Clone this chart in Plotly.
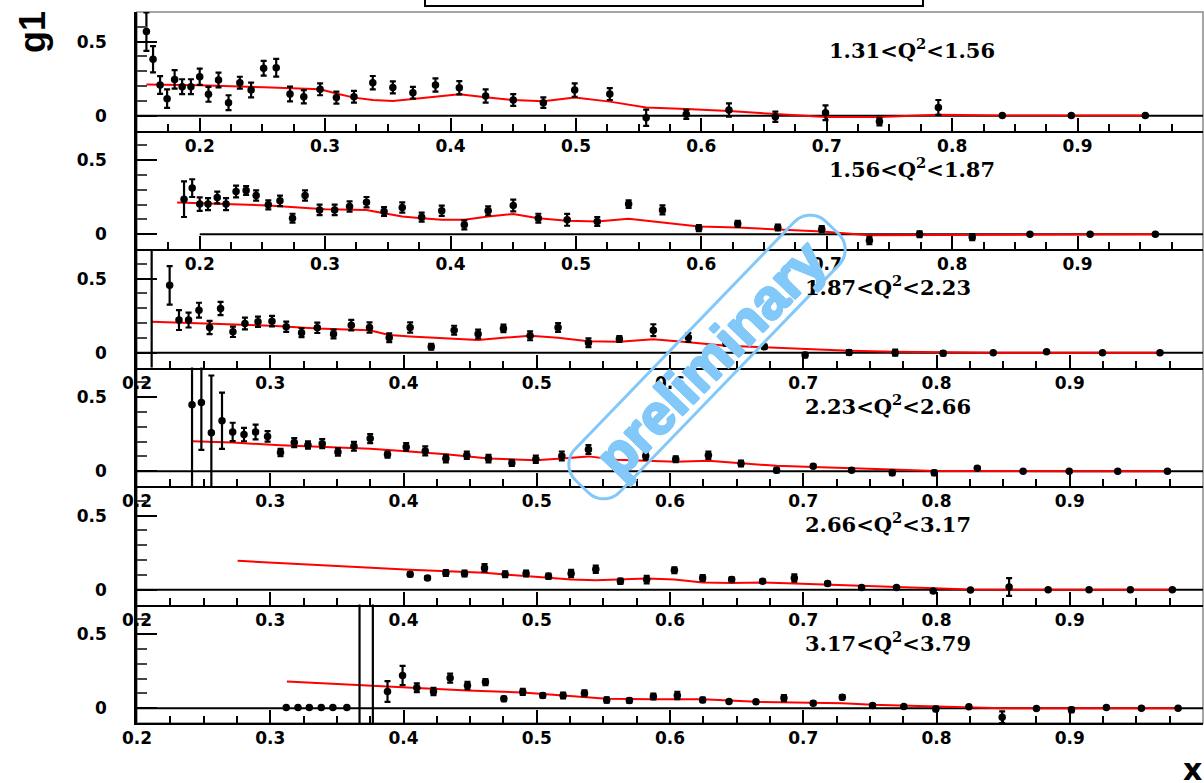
import math
import plotly.graph_objects as go

# ---------------- data: g1 vs x in six Q^2 bins ----------------
q2_labels = ["1.31&lt;Q<sup>2</sup>&lt;1.56", "1.56&lt;Q<sup>2</sup>&lt;1.87",
             "1.87&lt;Q<sup>2</sup>&lt;2.23", "2.23&lt;Q<sup>2</sup>&lt;2.66",
             "2.66&lt;Q<sup>2</sup>&lt;3.17", "3.17&lt;Q<sup>2</sup>&lt;3.79"]

x1 = [0.1575, 0.1628, 0.1684, 0.174, 0.180, 0.186, 0.193, 0.200, 0.207, 0.215,
      0.223, 0.232, 0.241, 0.251, 0.261, 0.272, 0.283, 0.296, 0.309, 0.323,
      0.338, 0.354, 0.370, 0.388, 0.407, 0.428, 0.450, 0.474, 0.499, 0.527,
      0.556, 0.588, 0.622, 0.659, 0.699, 0.742, 0.789, 0.840, 0.895, 0.954]
g1_1 = [0.568, 0.381, 0.207, 0.115, 0.245, 0.196, 0.196, 0.263, 0.144, 0.241,
        0.088, 0.223, 0.173, 0.320, 0.324, 0.146, 0.128, 0.178, 0.122, 0.128,
        0.223, 0.191, 0.155, 0.207, 0.189, 0.133, 0.106, 0.088, 0.173, 0.146,
        -0.014, 0.009, 0.038, -0.007, 0.020, -0.040, 0.056, 0.002, 0.002, 0.002]
err1 = [0.13, 0.088, 0.06, 0.062, 0.062, 0.05, 0.05, 0.055, 0.05, 0.05,
        0.05, 0.04, 0.05, 0.05, 0.06, 0.05, 0.045, 0.04, 0.04, 0.04,
        0.045, 0.04, 0.04, 0.045, 0.045, 0.045, 0.04, 0.035, 0.045, 0.04,
        0.055, 0.03, 0.045, 0.035, 0.05, 0.025, 0.05, 0.0, 0.0, 0.0]
fit_x1 = [0.1575, 0.200, 0.251, 0.296, 0.309, 0.323, 0.338, 0.354, 0.370, 0.388,
          0.407, 0.428, 0.450, 0.474, 0.499, 0.527, 0.556, 0.588, 0.622, 0.659,
          0.699, 0.742, 0.789, 0.840, 0.895, 0.954]
fit_1 = [0.210, 0.205, 0.192, 0.178, 0.150, 0.122, 0.106, 0.099, 0.113, 0.128,
         0.144, 0.124, 0.106, 0.097, 0.122, 0.095, 0.056, 0.045, 0.032, 0.011,
         -0.009, -0.009, 0.006, 0.002, 0.001, 0.001]

x2 = [0.1875, 0.194, 0.200, 0.2066, 0.214, 0.221, 0.229, 0.237, 0.245, 0.2547,
      0.264, 0.274, 0.284, 0.2956, 0.3076, 0.3195, 0.333, 0.347, 0.3615, 0.377,
      0.393, 0.411, 0.430, 0.450, 0.470, 0.493, 0.517, 0.542, 0.569, 0.598,
      0.629, 0.661, 0.696, 0.734, 0.774, 0.816, 0.862, 0.910, 0.962]
g1_2 = [0.236, 0.311, 0.203, 0.203, 0.248, 0.203, 0.288, 0.295, 0.261, 0.198,
        0.225, 0.108, 0.261, 0.164, 0.164, 0.187, 0.216, 0.153, 0.180, 0.115,
        0.158, 0.063, 0.158, 0.194, 0.108, 0.097, 0.086, 0.203, 0.164, 0.041,
        0.070, 0.045, 0.034, -0.043, 0.0, -0.020, 0.0, 0.0, 0.0]
err2 = [0.12, 0.06, 0.045, 0.04, 0.04, 0.04, 0.04, 0.03, 0.035, 0.03,
        0.035, 0.03, 0.035, 0.035, 0.035, 0.035, 0.035, 0.03, 0.035, 0.03,
        0.035, 0.03, 0.03, 0.04, 0.03, 0.04, 0.03, 0.025, 0.03, 0.02,
        0.02, 0.02, 0.02, 0.025, 0.02, 0.02, 0.0, 0.0, 0.0]
fit_x2 = [0.182, 0.200, 0.2547, 0.300, 0.333, 0.347, 0.3615, 0.377, 0.393, 0.411,
          0.430, 0.450, 0.470, 0.493, 0.517, 0.542, 0.569, 0.598, 0.629, 0.661,
          0.696, 0.734, 0.774, 0.816, 0.862, 0.910, 0.962]
fit_2 = [0.214, 0.209, 0.194, 0.169, 0.164, 0.142, 0.119, 0.108, 0.097, 0.097,
         0.119, 0.137, 0.108, 0.090, 0.086, 0.104, 0.081, 0.052, 0.045, 0.034,
         0.018, -0.007, -0.005, -0.003, 0.0, 0.0, 0.0]

x3 = [0.211, 0.2245, 0.2315, 0.2387, 0.2465, 0.2545, 0.2627, 0.272, 0.281, 0.2908,
      0.3013, 0.312, 0.3235, 0.3353, 0.3475, 0.3608, 0.3745, 0.3893, 0.405, 0.4208,
      0.438, 0.456, 0.475, 0.495, 0.516, 0.5388, 0.562, 0.5875, 0.6138, 0.6419,
      0.6708, 0.7014, 0.7344, 0.769, 0.805, 0.8426, 0.8826, 0.9246, 0.9677]
g1_3 = [1.5, 0.455, 0.220, 0.220, 0.287, 0.170, 0.298, 0.141, 0.197, 0.209,
        0.213, 0.175, 0.135, 0.168, 0.126, 0.186, 0.170, 0.101, 0.170, 0.040,
        0.152, 0.126, 0.164, 0.114, 0.170, 0.067, 0.092, 0.152, 0.103, 0.067,
        0.040, -0.016, 0.002, 0.0, -0.004, 0.0, 0.007, 0.0, 0.0]
err3 = [2.0, 0.13, 0.067, 0.05, 0.05, 0.045, 0.045, 0.035, 0.04, 0.035,
        0.035, 0.035, 0.03, 0.035, 0.03, 0.035, 0.035, 0.03, 0.035, 0.02,
        0.03, 0.03, 0.025, 0.03, 0.03, 0.03, 0.02, 0.04, 0.03, 0.02,
        0.015, 0.015, 0.015, 0.02, 0.015, 0.0, 0.0, 0.0, 0.0]
fit_x3 = [0.211, 0.2245, 0.2627, 0.3013, 0.3353, 0.3745, 0.3893, 0.405, 0.4208, 0.438,
          0.456, 0.475, 0.495, 0.516, 0.5388, 0.562, 0.5875, 0.6138, 0.6419, 0.6708,
          0.7014, 0.7344, 0.769, 0.805, 0.8426, 0.8826, 0.9246, 0.9677]
fit_3 = [0.209, 0.204, 0.193, 0.182, 0.164, 0.152, 0.119, 0.110, 0.101, 0.092,
         0.085, 0.101, 0.114, 0.101, 0.078, 0.074, 0.090, 0.070, 0.047, 0.036,
         0.025, 0.013, 0.007, 0.002, 0.0, 0.0, 0.0, 0.0]

x4 = [0.2413, 0.2483, 0.2558, 0.2638, 0.2718, 0.2803, 0.289, 0.298, 0.3077, 0.318,
      0.3283, 0.339, 0.3508, 0.3628, 0.375, 0.388, 0.402, 0.4163, 0.4318, 0.4475,
      0.4638, 0.4813, 0.4993, 0.5188, 0.5388, 0.5818, 0.6043, 0.6288, 0.6533, 0.680,
      0.7075, 0.7363, 0.7668, 0.7983, 0.8306, 0.865, 0.8996, 0.936, 0.9733]
g1_4 = [0.448, 0.464, 0.260, 0.341, 0.265, 0.247, 0.265, 0.235, 0.126, 0.193,
        0.177, 0.186, 0.130, 0.168, 0.220, 0.112, 0.164, 0.137, 0.085, 0.108,
        0.085, 0.056, 0.081, 0.103, 0.146, 0.103, 0.081, 0.108, 0.052, 0.007,
        0.034, 0.007, -0.011, -0.011, 0.020, 0.0, 0.0, 0.0, 0.0]
err4 = [0.60, 0.32, 0.386, 0.19, 0.062, 0.045, 0.05, 0.035, 0.025, 0.03,
        0.025, 0.03, 0.025, 0.03, 0.03, 0.02, 0.025, 0.03, 0.025, 0.025,
        0.025, 0.02, 0.025, 0.03, 0.03, 0.025, 0.02, 0.025, 0.02, 0.015,
        0.01, 0.01, 0.015, 0.015, 0.01, 0.0, 0.0, 0.0, 0.0]
fit_x4 = [0.2415, 0.2718, 0.3077, 0.339, 0.375, 0.402, 0.4318, 0.4638, 0.4813, 0.4993,
          0.5188, 0.5388, 0.560, 0.5818, 0.6043, 0.6288, 0.6533, 0.680, 0.7075, 0.7363,
          0.7668, 0.7983, 0.8306, 0.865, 0.8996, 0.936, 0.9733]
fit_4 = [0.202, 0.193, 0.175, 0.164, 0.152, 0.135, 0.114, 0.085, 0.078, 0.074,
         0.085, 0.100, 0.078, 0.070, 0.063, 0.070, 0.052, 0.036, 0.029, 0.018,
         0.011, 0.002, 0.0, 0.0, 0.0, 0.0, 0.0]

x5 = [0.405, 0.418, 0.4318, 0.4458, 0.4608, 0.4763, 0.492, 0.5088, 0.5258, 0.5443,
      0.5628, 0.5825, 0.6033, 0.6245, 0.6463, 0.6695, 0.6933, 0.7183, 0.7438, 0.770,
      0.7975, 0.8255, 0.8545, 0.8838, 0.9145, 0.9455, 0.977]
g1_5 = [0.104, 0.079, 0.113, 0.109, 0.147, 0.104, 0.109, 0.090, 0.109, 0.138,
        0.057, 0.068, 0.131, 0.079, 0.068, 0.057, 0.079, 0.041, 0.014, 0.014,
        -0.009, -0.002, 0.018, 0.0, 0.0, 0.0, 0.0]
err5 = [0.015, 0.012, 0.02, 0.02, 0.025, 0.02, 0.02, 0.018, 0.025, 0.025,
        0.018, 0.025, 0.02, 0.02, 0.015, 0.012, 0.025, 0.012, 0.008, 0.008,
        0.01, 0.005, 0.06, 0.0, 0.0, 0.0, 0.0]
fit_x5 = [0.2755, 0.3975, 0.405, 0.4608, 0.4763, 0.5088, 0.5258, 0.5443, 0.5628, 0.5825,
          0.6033, 0.6245, 0.6463, 0.6695, 0.6933, 0.7183, 0.7438, 0.770, 0.7975, 0.8255,
          0.8545, 0.8838, 0.9145, 0.9455, 0.977]
fit_5 = [0.195, 0.138, 0.134, 0.115, 0.102, 0.081, 0.068, 0.063, 0.068, 0.075,
         0.068, 0.048, 0.045, 0.048, 0.041, 0.034, 0.023, 0.018, 0.007, 0.002,
         0.0, 0.0, 0.0, 0.0, 0.0]

x6 = [0.312, 0.3208, 0.3293, 0.3383, 0.347, 0.3575, 0.367, 0.377, 0.388, 0.3993,
      0.410, 0.4225, 0.435, 0.448, 0.4615, 0.4753, 0.4895, 0.5045, 0.5198, 0.5358,
      0.5525, 0.5695, 0.5875, 0.6055, 0.6245, 0.6443, 0.6645, 0.6855, 0.7075, 0.7293,
      0.752, 0.7755, 0.7995, 0.8243, 0.8493, 0.875, 0.9013, 0.9275, 0.9538, 0.9813]
g1_6 = [0.005, 0.005, 0.005, 0.005, 0.005, 0.005, 1.2, 1.2, 0.113, 0.221,
        0.138, 0.113, 0.203, 0.153, 0.176, 0.063, 0.110, 0.086, 0.086, 0.101,
        0.056, 0.052, 0.079, 0.086, 0.056, 0.045, 0.043, 0.068, 0.034, 0.074,
        0.018, 0.011, -0.005, 0.009, -0.061, -0.002, -0.011, 0.005, 0.0, 0.0]
err6 = [0.0, 0.0, 0.0, 0.0, 0.0, 0.0, 1.6, 1.6, 0.07, 0.065,
        0.03, 0.025, 0.03, 0.025, 0.02, 0.015, 0.02, 0.015, 0.02, 0.02,
        0.018, 0.015, 0.02, 0.025, 0.015, 0.01, 0.01, 0.02, 0.01, 0.015,
        0.01, 0.005, 0.015, 0.005, 0.04, 0.0, 0.015, 0.0, 0.0, 0.0]
fit_x6 = [0.3125, 0.3993, 0.410, 0.448, 0.4895, 0.5198, 0.5525, 0.5875, 0.6245, 0.6645,
          0.7075, 0.7293, 0.752, 0.7995, 0.8493, 0.9013, 0.9538, 0.9813]
fit_6 = [0.180, 0.142, 0.135, 0.119, 0.106, 0.086, 0.063, 0.061, 0.061, 0.043,
         0.038, 0.034, 0.023, 0.011, 0.0, 0.0, 0.0, 0.0]

x_ranges = [[0.15, 1.0], [0.15, 1.0], [0.2, 1.0], [0.2, 1.0], [0.2, 1.0], [0.2, 1.0]]
zero_start = [0.15, 0.2, 0.2, 0.2, 0.2, 0.2]
y_range = [-0.1, 0.7]

panels = [
    (x1, g1_1, err1, fit_x1, fit_1),
    (x2, g1_2, err2, fit_x2, fit_2),
    (x3, g1_3, err3, fit_x3, fit_3),
    (x4, g1_4, err4, fit_x4, fit_4),
    (x5, g1_5, err5, fit_x5, fit_5),
    (x6, g1_6, err6, fit_x6, fit_6),
]
for px, py, pe, fx, fy in panels:
    assert len(px) == len(py) == len(pe)
    assert len(fx) == len(fy)

# ---------------- page geometry (pixels) ----------------
W, H = 1204, 783
LEFT, RIGHT = 137, 1203
TOP, PANEL_H = 12, 118.5

tick_font = dict(family="DejaVu Sans", size=17, color="black", weight="bold")

fig = go.Figure()
layout = dict(width=W, height=H,
              margin=dict(l=0, r=0, t=0, b=0, pad=0, autoexpand=False),
              paper_bgcolor="white", plot_bgcolor="rgba(0,0,0,0)",
              showlegend=False, annotations=[], shapes=[])

for i, (px, py, pe, fx, fy) in enumerate(panels):
    n = i + 1
    xa = "x" if n == 1 else f"x{n}"
    ya = "y" if n == 1 else f"y{n}"
    top = TOP + i * PANEL_H
    bot = top + PANEL_H

    layout["xaxis" if n == 1 else f"xaxis{n}"] = dict(
        domain=[LEFT / W, RIGHT / W], range=x_ranges[i], anchor=ya,
        automargin=False,
        showline=True, linecolor="black", linewidth=2,
        ticks="inside", ticklen=13, tickwidth=2, tickcolor="black",
        tick0=0, dtick=0.1, tickfont=tick_font, ticklabelstandoff=-1,
        showgrid=False, zeroline=False,
        minor=dict(ticks="inside", ticklen=7, tickwidth=1.5, tickcolor="black",
                   tick0=0, dtick=0.025, showgrid=False),
    )
    layout["yaxis" if n == 1 else f"yaxis{n}"] = dict(
        domain=[1 - bot / H, 1 - top / H], range=y_range, anchor=xa,
        automargin=False,
        showline=True, linecolor="black", linewidth=2.5,
        ticks="inside", ticklen=20, tickwidth=2, tickcolor="black",
        tick0=0, dtick=0.5, tickfont=tick_font, ticklabelstandoff=24,
        showgrid=False, zeroline=False,
        minor=dict(ticks="inside", ticklen=10, tickwidth=1.5, tickcolor="#444",
                   tick0=0, dtick=0.1, showgrid=False),
    )

    # zero reference line
    layout["shapes"].append(dict(type="line", xref=xa, yref=ya,
                                 x0=zero_start[i], x1=1.0, y0=0, y1=0,
                                 line=dict(color="black", width=2), layer="below"))

    # model curve
    fig.add_trace(go.Scatter(x=fx, y=fy, mode="lines", xaxis=xa, yaxis=ya,
                             line=dict(color="#ff0000", width=2),
                             hoverinfo="skip"))
    # measured g1 with errors
    fig.add_trace(go.Scatter(x=px, y=py, mode="markers", xaxis=xa, yaxis=ya,
                             marker=dict(symbol="circle", size=7.5, color="black"),
                             error_y=dict(type="data", array=pe, visible=True,
                                          color="black", thickness=2.2, width=3)))

    layout["annotations"].append(dict(
        text=q2_labels[i], xref=xa, yref=ya, x=0.70, y=0.45,
        xanchor="left", yanchor="middle", showarrow=False,
        font=dict(family="DejaVu Serif", size=21, color="black", weight="bold")))

# grey outer frame (top and right edges)
layout["shapes"].append(dict(type="rect", xref="paper", yref="paper",
                             x0=LEFT / W, x1=RIGHT / W,
                             y0=1 - (TOP + 6 * PANEL_H) / H, y1=1 - TOP / H,
                             line=dict(color="#888", width=1.5), layer="below"))
# title box, mostly above the page
layout["shapes"].append(dict(type="rect", xref="paper", yref="paper",
                             x0=425 / W, x1=923 / W, y0=1 - 6 / H, y1=1.05,
                             line=dict(color="black", width=2), fillcolor="white"))

# axis titles
layout["annotations"].append(dict(
    text="g1", xref="paper", yref="paper", x=33 / W, y=1 - 32 / H,
    textangle=-90, showarrow=False, xanchor="center", yanchor="middle",
    font=dict(family="Liberation Sans", size=36, color="black", weight="bold")))
layout["annotations"].append(dict(
    text="x", xref="paper", yref="paper", x=1192 / W, y=1 - 769 / H,
    showarrow=False, xanchor="center", yanchor="middle",
    font=dict(family="DejaVu Sans", size=30, color="black", weight="bold")))

# "preliminary" stamp: rotated rounded box + text
wm_color = "#82c8f8"
cx, cy, ang = 707.0, 357.0, math.radians(46)
a, b, r = 180.0, 31.0, 22.0
ux, uy = math.cos(ang), -math.sin(ang)
vx, vy = math.sin(ang), math.cos(ang)
pts = []
corners = [(a - r, b - r, 0), (-(a - r), b - r, 90), (-(a - r), -(b - r), 180), (a - r, -(b - r), 270)]
for (s0, t0, start) in corners:
    for k in range(0, 10):
        th = math.radians(start + k * 10)
        s = s0 + r * math.cos(th)
        t = t0 + r * math.sin(th)
        X = cx + s * ux + t * vx
        Y = cy + s * uy + t * vy
        pts.append((X / W, 1 - Y / H))
path = "M " + " L ".join(f"{p[0]:.5f},{p[1]:.5f}" for p in pts) + " Z"
layout["shapes"].append(dict(type="path", xref="paper", yref="paper", path=path,
                             line=dict(color=wm_color, width=3), layer="above"))
thick = ", ".join(f"{dx}px {dy}px 0 {wm_color}" for dx, dy in
                  [(1, 0), (-1, 0), (0, 1), (0, -1), (1, 1), (-1, -1), (1, -1), (-1, 1)])
layout["annotations"].append(dict(
    text="preliminary", xref="paper", yref="paper", x=710 / W, y=1 - 358 / H,
    textangle=-46, showarrow=False, xanchor="center", yanchor="middle",
    font=dict(family="Liberation Sans", size=56, color=wm_color, weight="bold",
              shadow=thick)))

fig.update_layout(**layout)
fig.write_html("out.html")
